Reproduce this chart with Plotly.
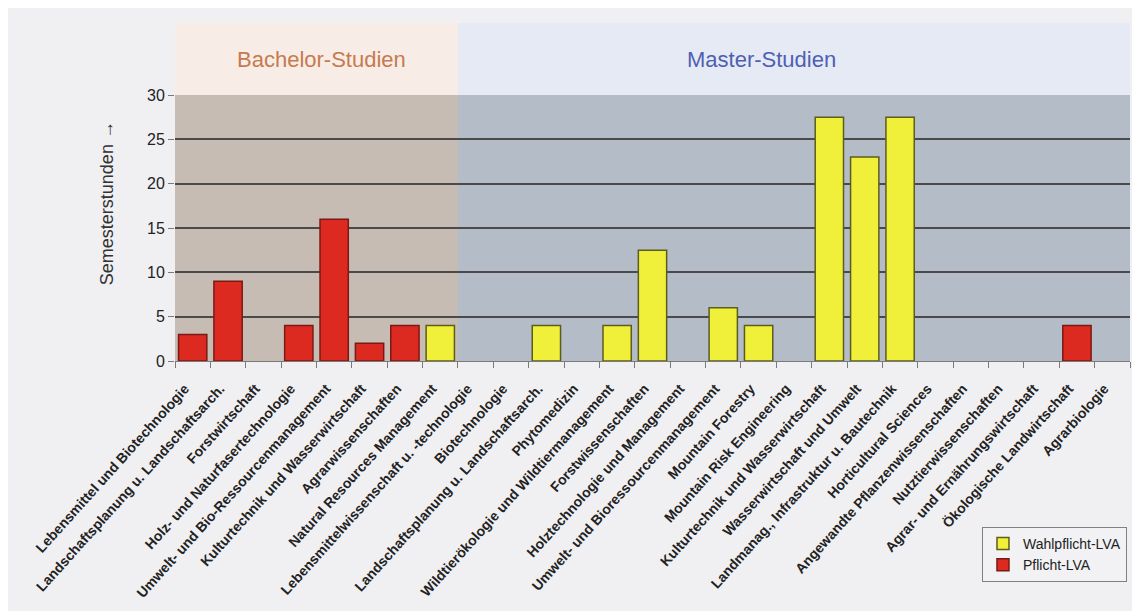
import plotly.graph_objects as go

categories = [
    "Lebensmittel und Biotechnologie",
    "Landschaftsplanung u. Landschaftsarch.",
    "Forstwirtschaft",
    "Holz- und Naturfasertechnologie",
    "Umwelt- und Bio-Ressourcenmanagement",
    "Kulturtechnik und Wasserwirtschaft",
    "Agrarwissenschaften",
    "Natural Resources Management",
    "Lebensmittelwissenschaft u. -technologie",
    "Biotechnologie",
    "Landschaftsplanung u. Landschaftsarch.",
    "Phytomedizin",
    "Wildtierökologie und Wildtiermanagement",
    "Forstwissenschaften",
    "Holztechnologie und Management",
    "Umwelt- und Bioressourcenmanagement",
    "Mountain Forestry",
    "Mountain Risk Engineering",
    "Kulturtechnik und Wasserwirtschaft",
    "Wasserwirtschaft und Umwelt",
    "Landmanag., Infrastruktur u. Bautechnik",
    "Horticultural Sciences",
    "Angewandte Pflanzenwissenschaften",
    "Nutztierwissenschaften",
    "Agrar- und Ernährungswirtschaft",
    "Ökologische Landwirtschaft",
    "Agrarbiologie",
]

wahlpflicht = [None, None, None, None, None, None, None, 4,
               None, None, 4, None, 4, 12.5, None, 6, 4, None,
               27.5, 23, 27.5, None, None, None, None, None, None]
pflicht = [3, 9, None, 4, 16, 2, 4, None,
           None, None, None, None, None, None, None, None, None, None,
           None, None, None, None, None, None, None, 4, None]

n_bachelor = 8
group_labels = ["Bachelor-Studien", "Master-Studien"]
series_names = ["Wahlpflicht-LVA", "Pflicht-LVA"]
y_ticks = [0, 5, 10, 15, 20, 25, 30]

x_idx = list(range(len(categories)))
FONT = "Liberation Sans, Arial, sans-serif"

fig = go.Figure()
fig.add_trace(go.Bar(
    x=x_idx, y=wahlpflicht, name=series_names[0], width=0.8,
    marker=dict(color="#f0f03a", line=dict(color="#5c5c1e", width=1.5)),
))
fig.add_trace(go.Bar(
    x=x_idx, y=pflicht, name=series_names[1], width=0.8,
    marker=dict(color="#dc2a20", line=dict(color="#7a1a14", width=1.5)),
))

n = len(categories)
shapes = [
    # bachelor plot region
    dict(type="rect", xref="x", yref="paper", x0=-0.5, x1=n_bachelor - 0.5,
         y0=0, y1=1, fillcolor="#c6bcb4", line=dict(width=0), layer="below"),
    # header bands
    dict(type="rect", xref="x", yref="paper", x0=-0.5, x1=n_bachelor - 0.5,
         y0=1, y1=1.272, fillcolor="#f7ede6", line=dict(width=0), layer="below"),
    dict(type="rect", xref="x", yref="paper", x0=n_bachelor - 0.5, x1=n - 0.5,
         y0=1, y1=1.272, fillcolor="#e5eaf5", line=dict(width=0), layer="below"),
]

annotations = [
    dict(text=group_labels[0], xref="paper", yref="paper", x=0.153, y=1.132,
         xanchor="center", yanchor="middle",
         showarrow=False, font=dict(family=FONT, size=22, color="#c77a4e")),
    dict(text=group_labels[1], xref="paper", yref="paper", x=0.614, y=1.132,
         xanchor="center", yanchor="middle",
         showarrow=False, font=dict(family=FONT, size=22, color="#4f5fb3")),
    dict(text="Semesterstunden →", xref="paper", yref="paper", x=-0.071, y=0.594,
         xanchor="center", yanchor="middle",
         textangle=-90, showarrow=False, font=dict(family=FONT, size=18, color="#333333")),
]

fig.update_layout(
    width=1132, height=603,
    margin=dict(l=167, r=10, t=87, b=250, autoexpand=False),
    paper_bgcolor="#f0f0f3",
    plot_bgcolor="#b4bcc8",
    barmode="overlay",
    shapes=shapes,
    annotations=annotations,
    font=dict(family=FONT, color="#222222"),
    legend=dict(
        x=0.845, y=-0.624, xanchor="left", yanchor="top",
        bgcolor="#f2f2f4", bordercolor="#808080", borderwidth=1,
        font=dict(family=FONT, size=14, color="#222222"),
        traceorder="normal", itemwidth=30,
    ),
    showlegend=True,
)

fig.update_xaxes(
    automargin=False,
    range=[-0.5, n - 0.5],
    tickmode="array", tickvals=x_idx, ticktext=categories,
    tickangle=-48, ticks="",
    ticklabelshift=-8, ticklabelstandoff=13,
    tickfont=dict(family=FONT, size=14, color="#222222", weight="bold"),
    showgrid=False, showline=True, linecolor="#7a7a7a", linewidth=1,
    zeroline=False,
    minor=dict(tickmode="linear", tick0=-0.5, dtick=1, ticks="outside",
               ticklen=6, tickcolor="#7a7a7a", showgrid=False),
)
fig.update_yaxes(
    automargin=False,
    range=[0, 30], tickmode="array", tickvals=y_ticks,
    ticks="outside", ticklen=6, tickcolor="#7a7a7a",
    tickfont=dict(family=FONT, size=16, color="#222222"),
    showgrid=True, gridcolor="#4a4a4a", gridwidth=1.5,
    zeroline=False, showline=False,
)

fig.write_html("out.html")
